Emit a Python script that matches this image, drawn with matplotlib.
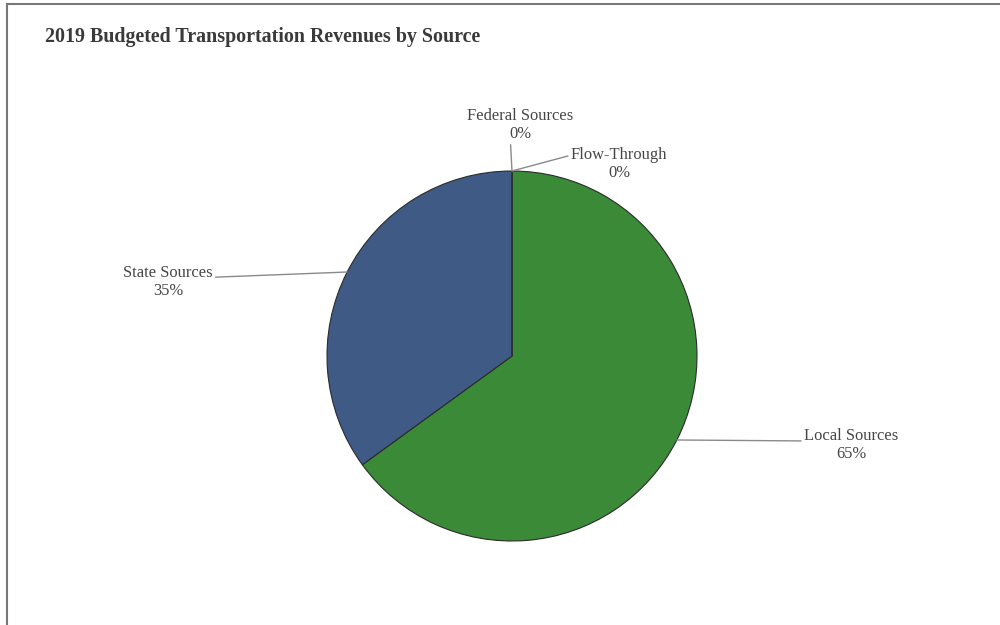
import numpy as np
import matplotlib.pyplot as plt
from matplotlib.lines import Line2D

# revenue shares (%), listed clockwise from 12 o'clock
sources = ['Flow-Through', 'Local Sources', 'State Sources', 'Federal Sources']
shares = [0, 65, 35, 0]
colors = ['#6a6a6a', '#3a8a38', '#3f5a84', '#9a9a9a']

# where each label block sits (pixels from top-left) and where its leader meets it
label_px = {
    'Flow-Through': (619, 164),
    'Local Sources': (851, 445),
    'State Sources': (168, 282),
    'Federal Sources': (520, 125),
}
label_relpos = {
    'Flow-Through': (0.0, 0.76),
    'Local Sources': (0.0, 0.62),
    'State Sources': (1.0, 0.64),
    'Federal Sources': (0.41, 0.0),
}

W, H = 1000, 625
cx, cy, R = 512, 356, 185

plt.rcParams['font.family'] = ['Liberation Serif', 'DejaVu Serif']

fig = plt.figure(figsize=(10, 6.25), dpi=100)
fig.patch.set_facecolor('white')
ax = fig.add_axes([0, 0, 1, 1])

wedges, _ = ax.pie(shares, colors=colors, startangle=90, counterclock=False,
                   wedgeprops=dict(edgecolor='#2b2b2b', linewidth=0.8))
ax.set_xlim(-cx / R, (W - cx) / R)
ax.set_ylim(-(H - cy) / R, cy / R)
ax.set_aspect('auto')
ax.axis('off')


def px_to_data(px, py):
    return (px - cx) / R, (cy - py) / R


for w, name, val in zip(wedges, sources, shares):
    mid = np.deg2rad((w.theta1 + w.theta2) / 2)
    anchor = (np.cos(mid), np.sin(mid))
    ax.annotate(f'{name}\n{val:.0f}%', xy=anchor, xytext=px_to_data(*label_px[name]),
                ha='center', va='center', fontsize=11.9, color='#454545',
                linespacing=1.15,
                arrowprops=dict(arrowstyle='-', color='#8a8a8a', lw=1.0,
                                shrinkA=0, shrinkB=0,
                                relpos=label_relpos[name]))

fig.text(45 / W, 1 - 37 / H, '2019 Budgeted Transportation Revenues by Source',
         fontsize=14.4, fontweight='bold', color='#3a3a3a', ha='left', va='center')

# outer frame (top and left edges)
fig.add_artist(Line2D([7 / W, 1], [1 - 4 / H, 1 - 4 / H], color='#777777', lw=1.5))
fig.add_artist(Line2D([7 / W, 7 / W], [0, 1 - 4 / H], color='#777777', lw=1.5))

fig.savefig('out.png', dpi=100)
